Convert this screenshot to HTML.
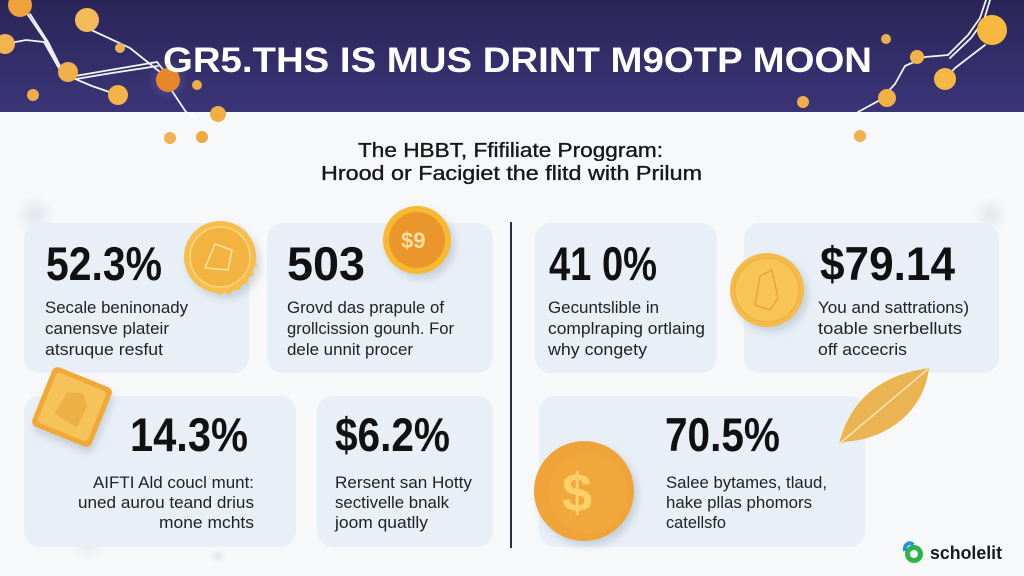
<!DOCTYPE html>
<html>
<head>
<meta charset="utf-8">
<style>
  html,body{margin:0;padding:0;background:#f7f8fa;}
  body{width:1024px;height:576px;overflow:hidden;}
  svg{display:block;}
  .t{font-family:"Liberation Sans",Arial,sans-serif;}
</style>
</head>
<body>
<svg width="1024" height="576" viewBox="0 0 1024 576" xmlns="http://www.w3.org/2000/svg">
  <defs>
    <linearGradient id="hdr" x1="0" y1="0" x2="0" y2="1">
      <stop offset="0" stop-color="#2a2558"/>
      <stop offset="1" stop-color="#3b3578"/>
    </linearGradient>
    <radialGradient id="glow" cx="0.5" cy="0.5" r="0.5">
      <stop offset="0" stop-color="#8a7fd0" stop-opacity="0.45"/>
      <stop offset="1" stop-color="#8a7fd0" stop-opacity="0"/>
    </radialGradient>
    <radialGradient id="spark" cx="0.5" cy="0.5" r="0.5">
      <stop offset="0" stop-color="#d3d6de" stop-opacity="0.55"/>
      <stop offset="1" stop-color="#d3d6de" stop-opacity="0"/>
    </radialGradient>
    <filter id="sh" x="-30%" y="-30%" width="160%" height="160%">
      <feDropShadow dx="4" dy="5" stdDeviation="4" flood-color="#8a94a8" flood-opacity="0.35"/>
    </filter>
  </defs>

  <rect x="0" y="0" width="1024" height="576" fill="#f7f8fa"/>
  <rect x="0" y="0" width="1024" height="112" fill="url(#hdr)"/>

  <circle cx="35" cy="215" r="20" fill="url(#spark)"/>
  <circle cx="990" cy="215" r="18" fill="url(#spark)"/>
  <circle cx="88" cy="540" r="20" fill="url(#spark)"/>
  <circle cx="218" cy="556" r="8" fill="url(#spark)"/>

  <g fill="none" stroke="#ffffff" stroke-width="1.8" stroke-linecap="round" opacity="0.95">
    <path d="M26 12 L45 40 L58 66 L68 76 L92 86 L118 95"/>
    <path d="M30 14 L48 42 L61 68"/>
    <path d="M5 44 L26 40 L44 42 L60 70"/>
    <path d="M75 76 L110 70 L157 62 L168 76"/>
    <path d="M76 79 L112 73 L158 66"/>
    <path d="M87 28 L130 48 L160 72"/>
    <path d="M170 88 L186 112 L196 118"/>
  </g>
  <g fill="none" stroke="#ffffff" stroke-width="1.8" stroke-linecap="round" opacity="0.95">
    <path d="M986 0 L980 18 L968 35 L948 55 L925 57 L905 66 L895 84 L880 100 L858 112"/>
    <path d="M990 0 L984 20 L971 38 L950 58"/>
    <path d="M985 45 L955 68 L945 79"/>
  </g>

  <g>
    <circle cx="168" cy="80" r="20" fill="url(#glow)"/>
    <circle cx="20" cy="5" r="12" fill="#f0a23a"/>
    <circle cx="87" cy="20" r="12" fill="#f3b95a"/>
    <circle cx="5" cy="44" r="10" fill="#f3b34e"/>
    <circle cx="120" cy="48" r="5" fill="#e7b358"/>
    <circle cx="68" cy="72" r="10" fill="#f1b04a"/>
    <circle cx="168" cy="80" r="12" fill="#e8862a"/>
    <circle cx="33" cy="95" r="6" fill="#f1ae46"/>
    <circle cx="118" cy="95" r="10" fill="#f3b24a"/>
    <circle cx="197" cy="85" r="5" fill="#e9ad4a"/>
    <circle cx="218" cy="114" r="8" fill="#f0ad42"/>
    <circle cx="170" cy="138" r="6" fill="#f1b150"/>
    <circle cx="202" cy="137" r="6" fill="#f0a840"/>

    <circle cx="992" cy="30" r="15" fill="#f6b93f"/>
    <circle cx="886" cy="39" r="5" fill="#e8b04a"/>
    <circle cx="917" cy="57" r="7" fill="#f3b34a"/>
    <circle cx="945" cy="79" r="11" fill="#f4b846"/>
    <circle cx="887" cy="98" r="9" fill="#f2b144"/>
    <circle cx="803" cy="102" r="6" fill="#eeae48"/>
    <circle cx="860" cy="136" r="6" fill="#f0b04c"/>
  </g>

  <text class="t" x="163" y="72" font-size="35" font-weight="bold" fill="#ffffff" textLength="709" lengthAdjust="spacingAndGlyphs">GR5.THS IS MUS DRINT M9OTP MOON</text>

  <g class="t" font-size="20" fill="#161616" stroke="#161616" stroke-width="0.35">
    <text x="358" y="157" textLength="305" lengthAdjust="spacingAndGlyphs">The HBBT, Ffifiliate Proggram:</text>
    <text x="321" y="180" textLength="381" lengthAdjust="spacingAndGlyphs">Hrood or Facigiet the flitd with Prilum</text>
  </g>

  <g fill="#e8eff6">
    <rect x="24" y="223" width="225" height="150" rx="16"/>
    <rect x="267" y="223" width="226" height="150" rx="16"/>
    <rect x="535" y="223" width="182" height="150" rx="16"/>
    <rect x="744" y="223" width="255" height="150" rx="16"/>
    <rect x="24" y="396" width="272" height="151" rx="16"/>
    <rect x="317" y="396" width="176" height="151" rx="16"/>
    <rect x="539" y="396" width="326" height="151" rx="16"/>
  </g>

  <rect x="510" y="222" width="2" height="326" fill="#2e2e36"/>

  <g filter="url(#sh)">
    <polygon fill="#f6bf4e" points="258,255 254.4,259.9 257.2,265.4 252.3,268.9 253.5,274.9 248,277.4 247.5,283.5 241.5,284.5 239.4,290.3 233.4,289.9 229.9,294.9 224.4,292.2 219,295 214.9,290.5 208.9,291.5 206.4,285.9 200.6,284.2 200.8,278.1 195.6,274.9 197.5,269.1 193.6,264.4 197.1,259.5 195,253.8 199.5,249.6 199.1,243.6 204.6,241 205.4,235 211.4,234.3 214,228.8 220,229.5 224,225 228.8,228.6 234.7,227.5 236.8,233.3 242.6,235.1 242.5,241.1 247.5,244.4 245.6,250.2 249.4,254.9 245.9,259.9 248,265.6"/>
    <circle cx="220" cy="257" r="36" fill="#f6bf4e"/>
    <circle cx="220" cy="257" r="30" fill="#f3b341" stroke="#fbd680" stroke-width="1.5"/>
    <path d="M205 268 L215 244 L232 250 L228 270 Z" fill="none" stroke="#fde3a0" stroke-width="1.5"/>
  </g>
  <g filter="url(#sh)">
    <circle cx="417" cy="240" r="34" fill="#f6ba32"/>
    <circle cx="417" cy="240" r="28" fill="#ea962a"/>
    <text class="t" x="401" y="248" font-size="22" font-weight="bold" fill="#fbe1a6">$9</text>
  </g>
  <g filter="url(#sh)">
    <circle cx="767" cy="290" r="37" fill="#f5bb48"/>
    <circle cx="767" cy="290" r="32" fill="#f7c457" stroke="#f0ad3a" stroke-width="1"/>
    <path d="M755 305 L760 276 L772 270 L778 298 L770 310 Z" fill="none" stroke="#e7a13a" stroke-width="1.3"/>
  </g>
  <g filter="url(#sh)" transform="rotate(22 72 407)">
    <rect x="40" y="375" width="64" height="64" rx="6" fill="#efa935"/>
    <rect x="45" y="380" width="54" height="54" rx="4" fill="#f6c25a"/>
    <path d="M58 420 L62 395 L76 390 L86 400 L84 424 Z" fill="#eaa83e" opacity="0.7"/>
  </g>
  <g filter="url(#sh)">
    <circle cx="584" cy="491" r="50" fill="#eea33a"/>
    <circle cx="588" cy="493" r="40" fill="#f0a83e"/>
    <text class="t" x="562" y="511" font-size="54" font-weight="bold" fill="#fcd067">$</text>
  </g>
  <g>
    <path d="M839 444 C 850 400, 880 375, 929 368 C 925 405, 895 438, 845 442 Z" fill="#ebb452"/>
    <path d="M839 444 L928 369" stroke="#fbe3b2" stroke-width="1.5" fill="none"/>
  </g>

  <g class="t" font-weight="bold" fill="#111" font-size="47">
    <text x="46" y="280" textLength="116" lengthAdjust="spacingAndGlyphs">52.3%</text>
    <text x="287" y="280" textLength="78" lengthAdjust="spacingAndGlyphs">503</text>
    <text x="549" y="280" textLength="108" lengthAdjust="spacingAndGlyphs">41 0%</text>
    <text x="820" y="280" textLength="135" lengthAdjust="spacingAndGlyphs">$79.14</text>
    <text x="130" y="451" textLength="118" lengthAdjust="spacingAndGlyphs">14.3%</text>
    <text x="335" y="451" textLength="115" lengthAdjust="spacingAndGlyphs">$6.2%</text>
    <text x="665" y="451" textLength="115" lengthAdjust="spacingAndGlyphs">70.5%</text>
  </g>

  <g class="t" fill="#222" font-size="17">
    <text x="45" y="313" textLength="143" lengthAdjust="spacingAndGlyphs">Secale beninonady</text>
    <text x="45" y="334" textLength="124" lengthAdjust="spacingAndGlyphs">canensve plateir</text>
    <text x="45" y="355" textLength="118" lengthAdjust="spacingAndGlyphs">atsruque resfut</text>

    <text x="287" y="313" textLength="157" lengthAdjust="spacingAndGlyphs">Grovd das prapule of</text>
    <text x="287" y="334" textLength="167" lengthAdjust="spacingAndGlyphs">grollcission gounh. For</text>
    <text x="287" y="355" textLength="126" lengthAdjust="spacingAndGlyphs">dele unnit procer</text>

    <text x="548" y="313" textLength="111" lengthAdjust="spacingAndGlyphs">Gecuntslible in</text>
    <text x="548" y="334" textLength="157" lengthAdjust="spacingAndGlyphs">complraping ortlaing</text>
    <text x="548" y="355" textLength="99" lengthAdjust="spacingAndGlyphs">why congety</text>

    <text x="818" y="313" textLength="151" lengthAdjust="spacingAndGlyphs">You and sattrations)</text>
    <text x="818" y="334" textLength="144" lengthAdjust="spacingAndGlyphs">toable snerbelluts</text>
    <text x="818" y="355" textLength="89" lengthAdjust="spacingAndGlyphs">off accecris</text>

    <text x="93" y="488" textLength="161" lengthAdjust="spacingAndGlyphs">AIFTI Ald coucl munt:</text>
    <text x="78" y="508" textLength="176" lengthAdjust="spacingAndGlyphs">uned aurou teand drius</text>
    <text x="159" y="528" textLength="95" lengthAdjust="spacingAndGlyphs">mone mchts</text>

    <text x="335" y="488" textLength="137" lengthAdjust="spacingAndGlyphs">Rersent san Hotty</text>
    <text x="335" y="508" textLength="114" lengthAdjust="spacingAndGlyphs">sectivelle bnalk</text>
    <text x="335" y="528" textLength="93" lengthAdjust="spacingAndGlyphs">joom quatlly</text>

    <text x="666" y="488" textLength="161" lengthAdjust="spacingAndGlyphs">Salee bytames, tlaud,</text>
    <text x="666" y="508" textLength="146" lengthAdjust="spacingAndGlyphs">hake pllas phomors</text>
    <text x="666" y="528" textLength="60" lengthAdjust="spacingAndGlyphs">catellsfo</text>
  </g>

  <g>
    <circle cx="914" cy="554" r="9" fill="#2fb24a"/>
    <circle cx="914" cy="554" r="4" fill="#f7f8fa"/>
    <path d="M905 551 C 904 544, 910 541, 913 545" stroke="#2d8fd6" stroke-width="4" fill="none"/>
    <text class="t" x="930" y="559" font-size="18" font-weight="bold" fill="#1a1a1a" textLength="72" lengthAdjust="spacingAndGlyphs">scholelit</text>
  </g>
</svg>
</body>
</html>
